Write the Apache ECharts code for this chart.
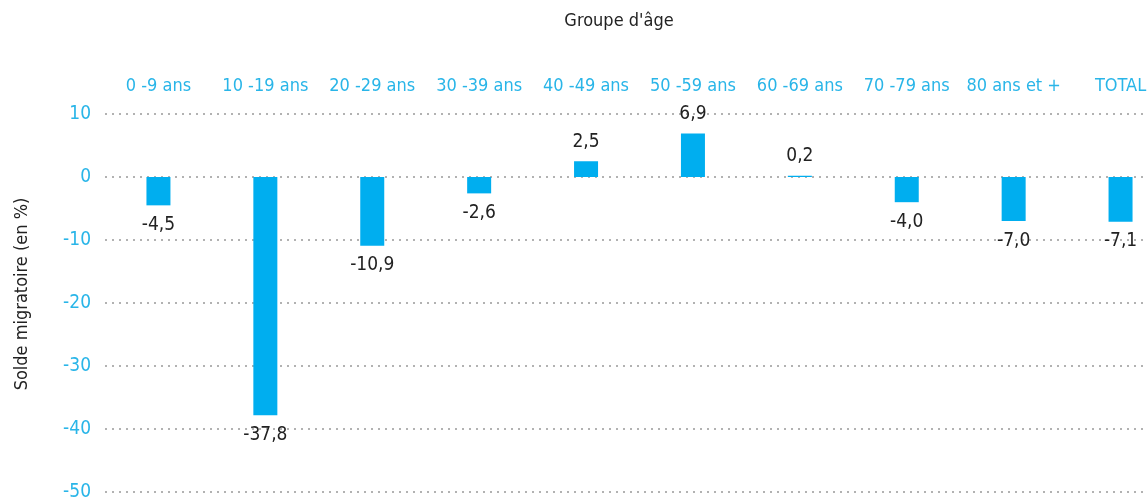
<!DOCTYPE html>
<html>
<head>
<meta charset="utf-8">
<script src="https://cdn.jsdelivr.net/npm/echarts@6/dist/echarts.min.js"></script>
<style>
  html, body { margin: 0; padding: 0; background: #fff; }
  #chart { width: 1148px; height: 502px; }
</style>
</head>
<body>
<div id="chart"></div>
<script>
const categories = ['0 -9 ans', '10 -19 ans', '20 -29 ans', '30 -39 ans', '40 -49 ans', '50 -59 ans', '60 -69 ans', '70 -79 ans', '80 ans et +', 'TOTAL'];
const soldeValues = [-4.5, -37.8, -10.9, -2.6, 2.5, 6.9, 0.2, -4.0, -7.0, -7.1];
const yTicks = { min: -50, max: 10, interval: 10 };

const FONT = '"Liberation Sans Narrow", "DejaVu Sans Condensed", sans-serif';
const cyan = '#29b5e8';

const chart = echarts.init(document.getElementById('chart'));

const option = {
  animation: false,
  title: {
    text: "Groupe d'âge",
    left: 614,
    top: 7,
    textAlign: 'center',
    textStyle: { color: '#222', fontSize: 18, fontWeight: 'normal', fontFamily: FONT }
  },
  grid: {
    left: 105,
    right: -26,
    top: 114,
    bottom: 10,
    outerBoundsMode: 'none'
  },
  xAxis: {
    type: 'category',
    position: 'top',
    data: categories,
    axisLine: { show: false },
    axisTick: { show: false },
    axisLabel: { color: cyan, fontSize: 18, fontFamily: FONT, margin: 19, interval: 0 }
  },
  yAxis: {
    type: 'value',
    min: yTicks.min,
    max: yTicks.max,
    interval: yTicks.interval,
    name: 'Solde migratoire (en %)',
    nameLocation: 'middle',
    nameGap: 74,
    nameTextStyle: { color: '#222', fontSize: 18, fontFamily: FONT, padding: [0, 0, 0, 18] },
    axisLine: { show: false },
    axisTick: { show: false },
    axisLabel: { color: cyan, fontSize: 19, fontFamily: FONT, margin: 14 },
    splitLine: {
      lineStyle: { color: '#999', type: [2, 5], width: 1.5 }
    }
  },
  series: [{
    type: 'bar',
    barWidth: 24,
    itemStyle: { color: '#00aeef' },
    data: soldeValues.map(v => ({
      value: v,
      label: { position: v >= 0 ? 'top' : 'bottom' }
    })),
    label: {
      show: true,
      distance: 10,
      color: '#222',
      fontSize: 19,
      fontFamily: FONT,
      formatter: p => p.value.toFixed(1).replace('.', ',')
    }
  }]
};

chart.setOption(option);
window.addEventListener('resize', function () {
  chart.resize();
});
</script>
</body>
</html>
